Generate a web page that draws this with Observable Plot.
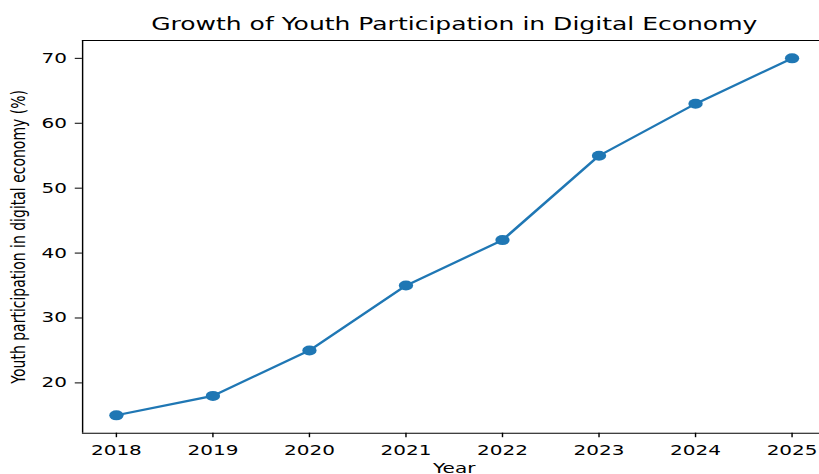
<!DOCTYPE html>
<html>
<head>
<meta charset="utf-8">
<script src="https://cdn.jsdelivr.net/npm/d3@7"></script>
<script src="https://cdn.jsdelivr.net/npm/@observablehq/plot@0.6"></script>
<style>
  html, body { margin: 0; padding: 0; background: #fff; overflow: hidden; width: 819px; height: 474px; }
  #chart svg { transform: scaleX(1.4293); transform-origin: 0 0; overflow: hidden; }
</style>
</head>
<body>
<div id="chart"></div>
<script>
const years = [2018, 2019, 2020, 2021, 2022, 2023, 2024, 2025];
const participation = [15, 18, 25, 35, 42, 55, 63, 70];
const yTicks = [20, 30, 40, 50, 60, 70];
const titleText = "Growth of Youth Participation in Digital Economy";
const xLabel = "Year";
const yLabel = "Youth participation in digital economy (%)";

const data = years.map((year, i) => ({year, value: participation[i]}));
const xDomain = [2017.65, 2025.35];
const yDomain = [12.25, 72.75];

const chart = Plot.plot({
  width: 573,
  height: 474,
  marginLeft: 57.3,
  marginRight: 0,
  marginTop: 40,
  marginBottom: 41.3,
  style: {fontFamily: "'DejaVu Sans', sans-serif", fontSize: "14px", color: "#000", background: "#fff"},
  x: {domain: xDomain, range: [57.3, 577.3]},
  y: {domain: yDomain},
  marks: [
    Plot.ruleY(yDomain, {stroke: "#000", strokeWidth: 1}),
    Plot.ruleX([xDomain[0]], {stroke: "#000", strokeWidth: 1}),
    Plot.axisX(years, {tickSize: 4.5, tickPadding: 7, tickFormat: d => String(d), label: null, fontSize: 14}),
    Plot.axisY(yTicks, {tickSize: 5, tickPadding: 6, tickFormat: d => String(d), label: null, fontSize: 14}),
    Plot.line(data, {x: "year", y: "value", stroke: "#1f77b4", strokeWidth: 2.1}),
    Plot.dot(data, {x: "year", y: "value", r: 5, fill: "#1f77b4", stroke: "none"}),
    Plot.text([titleText], {x: () => 2021.5, frameAnchor: "top", dy: -16.4, lineAnchor: "middle", fontSize: 17.5, text: d => d}),
    Plot.text([xLabel], {x: () => 2021.5, frameAnchor: "bottom", dy: 35.8, lineAnchor: "middle", fontSize: 14, text: d => d}),
    Plot.text([yLabel], {frameAnchor: "left", textAnchor: "middle", rotate: -90, dx: -44.7, fontSize: 14, text: d => d})
  ]
});
document.getElementById("chart").appendChild(chart);
</script>
</body>
</html>
